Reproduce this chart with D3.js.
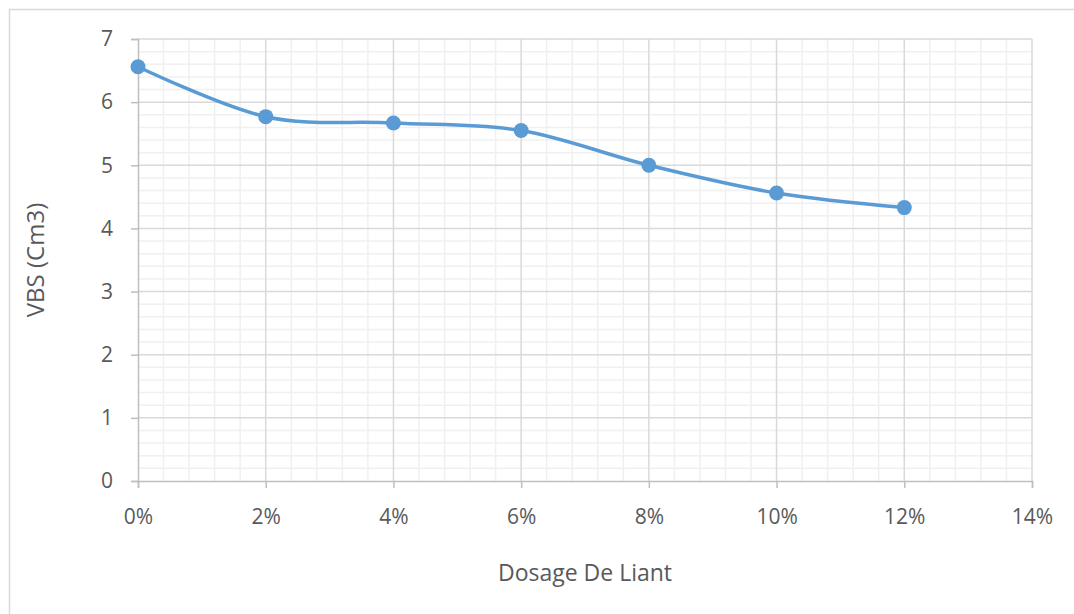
<!DOCTYPE html>
<html>
<head>
<meta charset="utf-8">
<script src="https://cdn.jsdelivr.net/npm/d3@7"></script>
<style>
  html, body { margin: 0; padding: 0; background: #fff; }
  svg { display: block; }
</style>
</head>
<body>
<div id="chart"></div>
<script>
// ── Datos ──────────────────────────────────────────────────────────────────
const dosage = [0, 2, 4, 6, 8, 10, 12];             // %
const vbs    = [6.56, 5.77, 5.67, 5.55, 5.0, 4.56, 4.33];
const xTicks = [0, 2, 4, 6, 8, 10, 12, 14];
const yTicks = [0, 1, 2, 3, 4, 5, 6, 7];

const width = 1074, height = 614;
const margin = { left: 138, right: 42, top: 39, bottom: 133 };

const svg = d3.select("#chart").append("svg")
  .attr("width", width)
  .attr("height", height)
  .style("font-family", "'Open Sans', sans-serif");

// marco exterior
svg.append("rect")
  .attr("x", 9.5).attr("y", 9.5)
  .attr("width", width + 20).attr("height", height + 20)
  .attr("fill", "none")
  .attr("stroke", "#d9d9d9")
  .attr("stroke-width", 1.5);

const x = d3.scaleLinear().domain([0, 14]).range([margin.left, width - margin.right]);
const y = d3.scaleLinear().domain([0, 7]).range([height - margin.bottom, margin.top]);

const g = svg.append("g");

// ── Rejilla secundaria ───────────────────────────────────────────────────
const xMinor = d3.range(0, 14.001, 0.4).filter(v => Math.abs(v / 2 - Math.round(v / 2)) > 1e-6);
const yMinor = d3.range(0, 7.001, 0.2).filter(v => Math.abs(v - Math.round(v)) > 1e-6);

g.append("g").selectAll("line").data(xMinor).join("line")
  .attr("x1", d => x(d)).attr("x2", d => x(d))
  .attr("y1", y(0)).attr("y2", y(7))
  .attr("stroke", "#f0f0f0").attr("stroke-width", 1.5);

g.append("g").selectAll("line").data(yMinor).join("line")
  .attr("x1", x(0)).attr("x2", x(14))
  .attr("y1", d => y(d)).attr("y2", d => y(d))
  .attr("stroke", "#f0f0f0").attr("stroke-width", 1.5);

// ── Rejilla principal ────────────────────────────────────────────────────
g.append("g").selectAll("line").data(xTicks.slice(1)).join("line")
  .attr("x1", d => x(d)).attr("x2", d => x(d))
  .attr("y1", y(0)).attr("y2", y(7))
  .attr("stroke", "#d9d9d9").attr("stroke-width", 1.5);

g.append("g").selectAll("line").data(yTicks.slice(1)).join("line")
  .attr("x1", x(0)).attr("x2", x(14))
  .attr("y1", d => y(d)).attr("y2", d => y(d))
  .attr("stroke", "#d9d9d9").attr("stroke-width", 1.5);

// ── Ejes ──────────────────────────────────────────────────────────────────
const xAxis = svg.append("g")
  .attr("transform", `translate(0,${y(0)})`)
  .call(d3.axisBottom(x).tickValues(xTicks).tickSize(7).tickPadding(21).tickFormat(d => d + "%"));

const yAxis = svg.append("g")
  .attr("transform", `translate(${x(0)},0)`)
  .call(d3.axisLeft(y).tickValues(yTicks).tickSize(7).tickPadding(18).tickFormat(d3.format("d")));

[xAxis, yAxis].forEach(a => {
  a.select(".domain").attr("stroke", "#bfbfbf").attr("stroke-width", 1.5);
  a.selectAll(".tick line").attr("stroke", "#bfbfbf").attr("stroke-width", 1.5);
  a.selectAll(".tick text")
    .attr("fill", "#595959")
    .style("font-size", "21px")
    .style("font-family", "'Open Sans', sans-serif");
});

// ── Línea suavizada + marcadores ─────────────────────────────────────────
const pts = dosage.map((d, i) => [d, vbs[i]]);

const line = d3.line()
  .x(d => x(d[0]))
  .y(d => y(d[1]))
  .curve(d3.curveCatmullRom.alpha(0));

svg.append("path")
  .datum(pts)
  .attr("d", line)
  .attr("fill", "none")
  .attr("stroke", "#5b9bd5")
  .attr("stroke-width", 3.5)
  .attr("stroke-linecap", "round");

svg.append("g").selectAll("circle").data(pts).join("circle")
  .attr("cx", d => x(d[0]))
  .attr("cy", d => y(d[1]))
  .attr("r", 7.5)
  .attr("fill", "#5b9bd5");

// ── Títulos de ejes ──────────────────────────────────────────────────────
svg.append("text")
  .attr("x", (x(0) + x(14)) / 2)
  .attr("y", 581)
  .attr("text-anchor", "middle")
  .attr("fill", "#595959")
  .style("font-size", "23px")
  .text("Dosage De Liant");

svg.append("text")
  .attr("transform", `translate(44,${(y(0) + y(7)) / 2}) rotate(-90)`)
  .attr("text-anchor", "middle")
  .attr("fill", "#595959")
  .style("font-size", "24px")
  .text("VBS (Cm3)");
</script>
</body>
</html>
